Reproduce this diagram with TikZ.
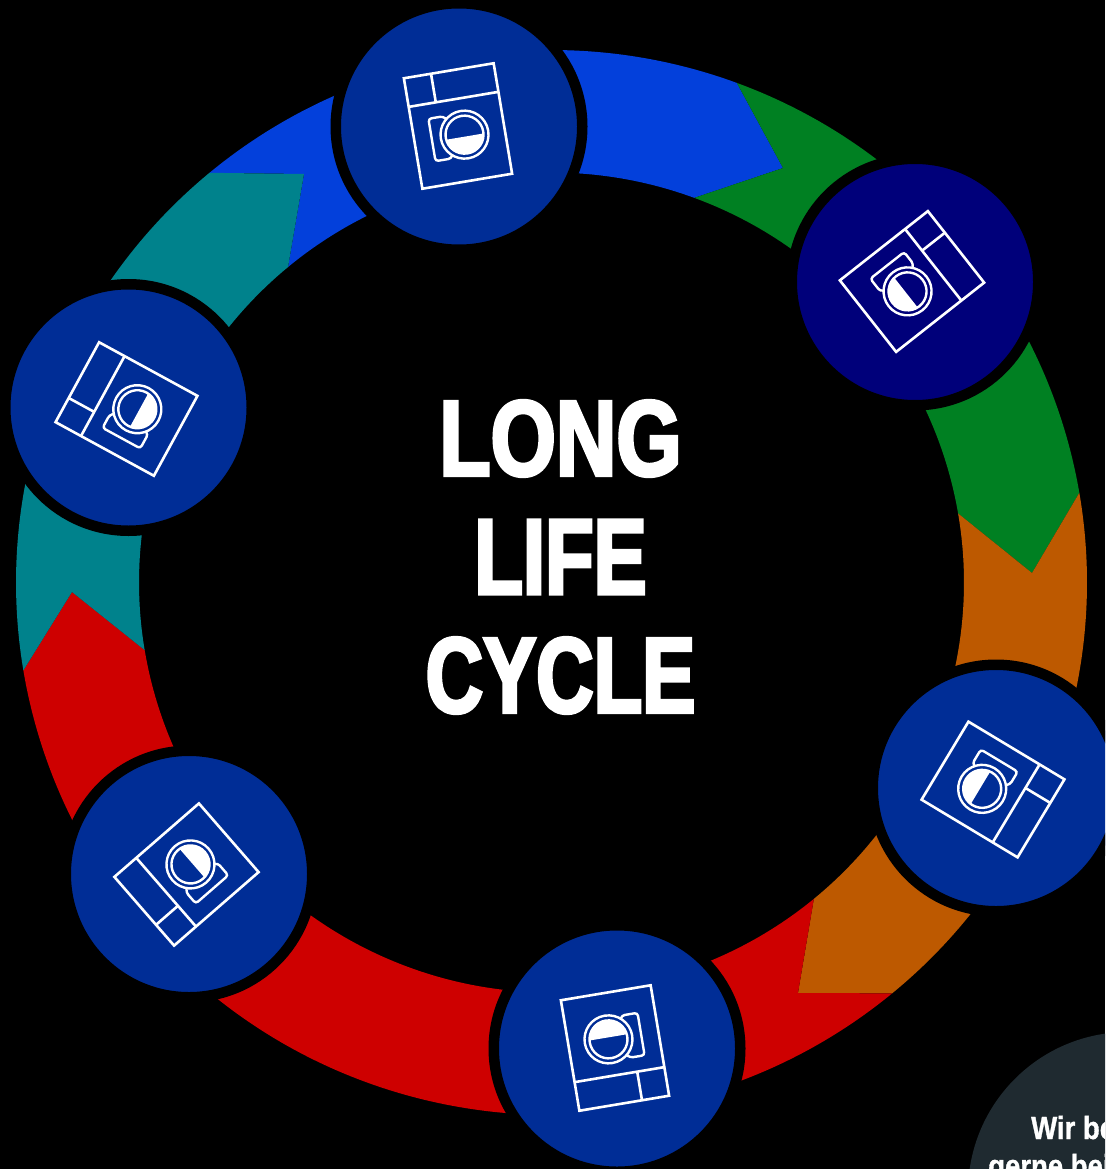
\documentclass[tikz,border=0pt]{standalone}
\usepackage{fontspec}
\usepackage{tikz}
\newfontfamily\titlefont[FakeStretch=0.74,FakeBold=3]{Liberation Sans}
\newfontfamily\longfont[FakeStretch=0.78,FakeBold=3]{Liberation Sans}
\newfontfamily\panelfont[FakeStretch=0.86,FakeBold=1]{Liberation Sans}
\definecolor{ringblue}{HTML}{0340DB}
\definecolor{ringgreen}{HTML}{008022}
\definecolor{ringorange}{HTML}{BD5900}
\definecolor{ringred}{HTML}{CE0000}
\definecolor{ringteal}{HTML}{00828C}
\definecolor{stationblue}{HTML}{002D96}
\definecolor{stationnavy}{HTML}{00007A}
\definecolor{panelgrey}{HTML}{1F2A30}

\begin{document}
\begin{tikzpicture}[
    x=1pt,y=-1pt,
    station/.style={circle,fill=stationblue,draw=black,line width=10.5pt,minimum size=246.5pt,inner sep=0pt},
    panel/.style={circle,fill=panelgrey,minimum size=320pt,inner sep=0pt},
    paneltext/.style={anchor=base west,inner sep=0pt,text=white,font=\panelfont\bfseries\fontsize{32}{33}\selectfont},
    washer/.pic={
        \draw[white,line width=2.6pt] (-45.5,-56) rectangle (45.5,56);
        \draw[white,line width=2.6pt] (-45.5,-27) -- (45.5,-27);
        \draw[white,line width=2.6pt] (-18,-56) -- (-18,-27);
        \fill[white] (5,9.6) ++(-18.9,2) -- ++(37.8,0) arc[start angle=6,end angle=174,radius=19] -- cycle;
        \draw[white,line width=2.4pt] (5,9.6) circle[radius=24];
        \draw[white,line width=2.4pt] (5,9.6) circle[radius=19];
        \draw[white,line width=2.4pt,rounded corners=3pt] (-10.5,-9) -- (-13.4,-12) -- (-28,-12) -- (-28,31) -- (-12,31) -- (-10.5,28);
    }
]
\useasboundingbox (0,0) rectangle (1105,1169);
\clip (0,0) rectangle (1105,1169);
\fill[black] (0,0) rectangle (1105,1169);

% arrow tips of the ring parts
\coordinate (tipblue) at (783,168);
\coordinate (tipgreen) at (1032,573);
\coordinate (tiporange) at (798,993);
\coordinate (tipred) at (72,592);
\coordinate (tipteal) at (304,174);

% ring
\begin{scope}[shift={(551.5,582.5)}]
\foreach \col/\from/\to/\tail/\head in {ringblue/230.3/290.25/tipteal/tipblue,ringgreen/290.25/350.3/tipblue/tipgreen,ringorange/350.3/410.5/tipgreen/tiporange,ringred/410.5/530.5/tiporange/tipred,ringteal/530.5/590.3/tipred/tipteal}{
    \fill[\col] (\from:535.5 and 532.5) arc[start angle=\from,end angle=\to,x radius=535.5,y radius=532.5]
        -- (\head) -- (\to:412.5 and 410) arc[start angle=\to,end angle=\from,x radius=412.5,y radius=410]
        -- (\tail) -- cycle;
}
\end{scope}

% stations
\node[station] (top) at (459,126.5) {};
\node[station,fill=stationnavy] (upperright) at (915,282) {};
\node[station] (right) at (996,788) {};
\node[station] (bottom) at (617,1048.5) {};
\node[station] (lowerleft) at (189,874) {};
\node[station] (left) at (128.5,407.5) {};

\pic[rotate=9.5] at (458,126) {washer};
\pic[rotate=-51.8] at (912,281.5) {washer};
\pic[rotate=-121] at (993,789.5) {washer};
\pic[rotate=-170.5] at (615,1048) {washer};
\pic[rotate=-229] at (186.5,874.5) {washer};
\pic[rotate=-298.6] at (126.5,409) {washer};

\node[align=center,inner sep=0pt,text=white,font=\titlefont\bfseries\fontsize{107.5}{118.5}\selectfont] (title) at (560.5,557) {{\longfont\bfseries LONG}\\LIFE\\CYCLE};

% corner panel
\node[panel] (corner) at (1128,1192) {};
\node[paneltext] (cornerone) at (1031,1139) {Wir be};
\node[paneltext] (cornertwo) at (988,1177) {gerne bei};
\end{tikzpicture}
\end{document}
